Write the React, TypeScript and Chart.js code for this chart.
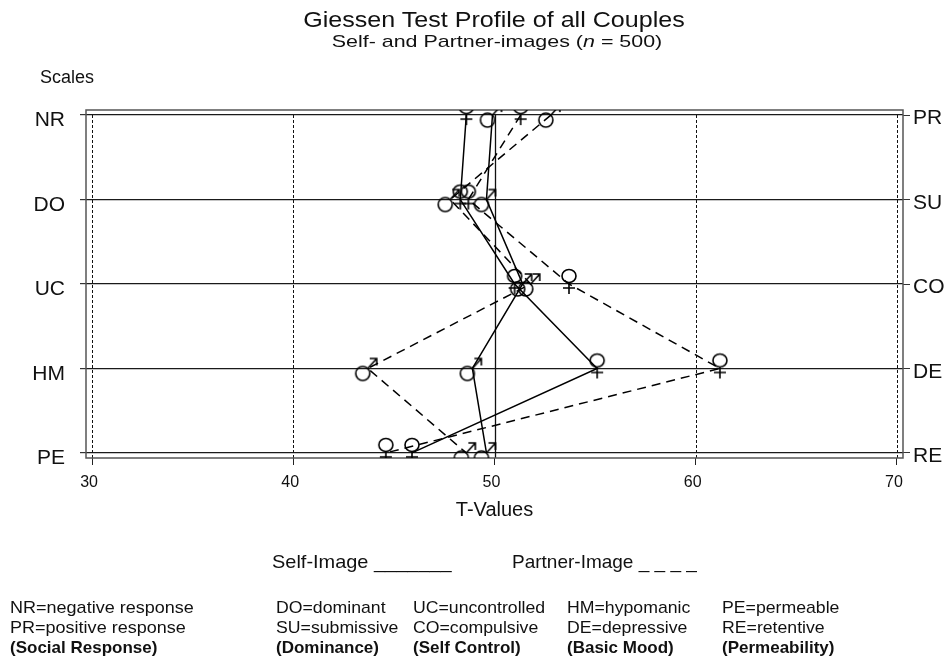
import React, { useEffect, useRef } from "react";
import { Chart, registerables } from "chart.js";

Chart.register(...registerables);

// ---- data ----
const leftScales = ["NR", "DO", "UC", "HM", "PE"];
const rightScales = ["PR", "SU", "CO", "DE", "RE"];
const xTickValues = [30, 40, 50, 60, 70];
const dashedGridValues = [30, 40, 60, 70];
const solidGridValues = [50];

// Self-images (solid lines)
const selfWomen = [48.6, 48.3, 51.0, 55.1, 45.9]; // ♀
const selfMen = [49.9, 49.6, 51.4, 48.9, 49.6]; // ♂
// Partner-images (dashed lines)
const partnerWomen = [51.3, 48.7, 53.7, 61.2, 44.6]; // ♀
const partnerMen = [52.8, 47.8, 51.8, 43.7, 48.6]; // ♂

const FONT = "'Liberation Sans', Arial, Helvetica, sans-serif";
const INK = "#111";

function makeFemale(): HTMLCanvasElement {
  const c = document.createElement("canvas");
  c.width = 40;
  c.height = 40;
  const g = c.getContext("2d")!;
  g.strokeStyle = "#000";
  g.lineWidth = 1.6;
  const cx = 20, cy = 20;
  g.beginPath();
  g.ellipse(cx, cy - 8, 7, 6.5, 0, 0, Math.PI * 2);
  g.stroke();
  g.beginPath();
  g.moveTo(cx, cy - 1.5);
  g.lineTo(cx, cy + 10);
  g.moveTo(cx - 6, cy + 4);
  g.lineTo(cx + 6, cy + 4);
  g.stroke();
  return c;
}

function makeMale(): HTMLCanvasElement {
  const c = document.createElement("canvas");
  c.width = 40;
  c.height = 40;
  const g = c.getContext("2d")!;
  g.strokeStyle = "#000";
  g.lineWidth = 1.6;
  const cx = 20, cy = 20;
  g.beginPath();
  g.arc(cx - 5, cy + 5, 7, 0, Math.PI * 2);
  g.stroke();
  g.beginPath();
  g.moveTo(cx, cy);
  g.lineTo(cx + 9, cy - 10);
  g.moveTo(cx + 2, cy - 10);
  g.lineTo(cx + 9, cy - 10);
  g.lineTo(cx + 9, cy - 3);
  g.stroke();
  return c;
}

const framePlugin = {
  id: "frame",
  beforeDatasetsDraw(chart: any) {
    const { ctx, chartArea, scales } = chart;
    const xs = scales.x;
    ctx.save();
    ctx.strokeStyle = INK;
    ctx.lineWidth = 1;
    ctx.setLineDash([3, 2]);
    dashedGridValues.forEach((v) => {
      const px = Math.round(xs.getPixelForValue(v)) + 0.5;
      ctx.beginPath();
      ctx.moveTo(px, chartArea.top + 5);
      ctx.lineTo(px, chartArea.bottom);
      ctx.stroke();
    });
    ctx.setLineDash([]);
    ctx.lineWidth = 1.3;
    solidGridValues.forEach((v) => {
      const px = Math.round(xs.getPixelForValue(v)) + 0.5;
      ctx.beginPath();
      ctx.moveTo(px, chartArea.top + 5);
      ctx.lineTo(px, chartArea.bottom);
      ctx.stroke();
    });
    ctx.strokeStyle = "#555";
    ctx.lineWidth = 1.5;
    ctx.strokeRect(
      chartArea.left,
      chartArea.top,
      chartArea.right - chartArea.left,
      chartArea.bottom - chartArea.top
    );
    ctx.restore();
  },
};

function toPoints(arr: number[]) {
  return arr.map((v, i) => ({ x: v, y: i }));
}

function Txt(props: {
  x: number;
  base: number;
  size: number;
  text?: string;
  bold?: boolean;
  center?: boolean;
  sx?: number;
  children?: any;
}) {
  const { x, base, size, bold, center, sx } = props;
  const top = base - 0.8465 * size;
  const style: any = {
    position: "absolute",
    top,
    fontFamily: FONT,
    fontSize: size,
    lineHeight: `${size}px`,
    fontWeight: bold ? "bold" : "normal",
    color: INK,
    whiteSpace: "pre",
  };
  if (center) {
    style.left = x - 400;
    style.width = 800;
    style.textAlign = "center";
    style.transformOrigin = "center";
  } else {
    style.left = x;
    style.transformOrigin = "left";
  }
  if (sx) style.transform = `scaleX(${sx})`;
  return <div style={style}>{props.children ?? props.text}</div>;
}

function datasetStyle(dashed: boolean, symbol: HTMLCanvasElement) {
  return {
    borderColor: "#000",
    borderWidth: 1.5,
    borderDash: dashed ? [9, 6] : [],
    pointStyle: symbol as any,
    pointRadius: 8,
    tension: 0,
    fill: false,
  };
}

export default function App() {
  const ref = useRef<HTMLCanvasElement | null>(null);

  useEffect(() => {
    if (!ref.current) return;
    const female = makeFemale();
    const male = makeMale();
    const chart = new Chart(ref.current, {
      type: "line",
      data: {
        datasets: [
          { label: "Self-image (women)", data: toPoints(selfWomen), ...datasetStyle(false, female) },
          { label: "Self-image (men)", data: toPoints(selfMen), ...datasetStyle(false, male) },
          { label: "Partner-image (women)", data: toPoints(partnerWomen), ...datasetStyle(true, female) },
          { label: "Partner-image (men)", data: toPoints(partnerMen), ...datasetStyle(true, male) },
        ],
      },
      options: {
        responsive: false,
        animation: false,
        devicePixelRatio: 1,
        layout: { padding: { top: 110, bottom: 139, left: 0, right: 0 } },
        plugins: {
          legend: { display: false },
          tooltip: { enabled: false },
          title: { display: false },
        },
        scales: {
          x: {
            type: "linear",
            min: 29.7,
            max: 70.3,
            afterBuildTicks: (s: any) => {
              s.ticks = xTickValues.map((v) => ({ value: v }));
            },
            afterFit: (s: any) => {
              s.height = 64;
            },
            ticks: {
              font: { family: FONT, size: 16 },
              color: INK,
              padding: 8,
              labelOffset: -3,
              maxRotation: 0,
              callback: (v: any) => String(v),
            },
            grid: {
              drawOnChartArea: false,
              drawTicks: true,
              tickLength: 7,
              color: "#222",
              tickColor: "#222",
            },
            border: { display: false },
            title: {
              display: true,
              text: "T-Values",
              font: { family: FONT, size: 20 },
              color: INK,
              padding: { top: 0, bottom: 0 },
            },
          },
          y: {
            type: "linear",
            position: "left",
            reverse: true,
            min: -0.06,
            max: 4.06,
            afterBuildTicks: (s: any) => {
              s.ticks = leftScales.map((_, i) => ({ value: i }));
            },
            afterFit: (s: any) => {
              s.width = 86;
            },
            ticks: {
              font: { family: FONT, size: 21 },
              color: INK,
              padding: 15,
              labelOffset: 5.5,
              callback: (v: any) => leftScales[Math.round(Number(v))],
            },
            grid: {
              color: "#1a1a1a",
              lineWidth: 1.2,
              tickLength: 6,
              tickColor: "#333",
            },
            border: { display: false },
          },
          y2: {
            type: "linear",
            position: "right",
            reverse: true,
            min: -0.06,
            max: 4.06,
            afterBuildTicks: (s: any) => {
              s.ticks = rightScales.map((_, i) => ({ value: i }));
            },
            afterFit: (s: any) => {
              s.width = 49;
            },
            ticks: {
              font: { family: FONT, size: 21 },
              color: INK,
              padding: 3,
              labelOffset: 3.5,
              callback: (v: any) => rightScales[Math.round(Number(v))],
            },
            grid: {
              drawOnChartArea: false,
              tickLength: 7,
              tickColor: "#333",
            },
            border: { display: false },
          },
        },
      } as any,
      plugins: [framePlugin],
    });
    return () => chart.destroy();
  }, []);

  return (
    <div
      style={{
        position: "absolute",
        left: 0,
        top: 0,
        width: 952,
        height: 661,
        background: "#fff",
        overflow: "hidden",
      }}
    >
      <canvas
        ref={ref}
        width={952}
        height={661}
        style={{ position: "absolute", left: 0, top: 0, width: 952, height: 661 }}
      />
      <Txt x={494} base={28} size={22} sx={1.14} center text="Giessen Test Profile of all Couples" />
      <Txt x={497} base={47} size={17} sx={1.26} center>
        Self- and Partner-images (<i>n</i> = 500)
      </Txt>
      <Txt x={40} base={83} size={18} text="Scales" />
      <Txt x={272} base={568} size={19} sx={1.05} text="Self-Image _______" />
      <Txt x={512} base={568} size={19} text="Partner-Image _ _ _ _" />

      <Txt x={10} base={613} size={17} sx={1.06} text="NR=negative response" />
      <Txt x={10} base={633} size={17} sx={1.06} text="PR=positive response" />
      <Txt x={10} base={653} size={17} sx={1.0} bold text="(Social Response)" />

      <Txt x={276} base={613} size={17} sx={1.04} text="DO=dominant" />
      <Txt x={276} base={633} size={17} sx={1.04} text="SU=submissive" />
      <Txt x={276} base={653} size={17} bold text="(Dominance)" />

      <Txt x={413} base={613} size={17} sx={1.04} text="UC=uncontrolled" />
      <Txt x={413} base={633} size={17} sx={1.04} text="CO=compulsive" />
      <Txt x={413} base={653} size={17} bold text="(Self Control)" />

      <Txt x={567} base={613} size={17} sx={1.04} text="HM=hypomanic" />
      <Txt x={567} base={633} size={17} sx={1.04} text="DE=depressive" />
      <Txt x={567} base={653} size={17} bold text="(Basic Mood)" />

      <Txt x={722} base={613} size={17} sx={1.04} text="PE=permeable" />
      <Txt x={722} base={633} size={17} sx={1.04} text="RE=retentive" />
      <Txt x={722} base={653} size={17} bold text="(Permeability)" />
    </div>
  );
}
